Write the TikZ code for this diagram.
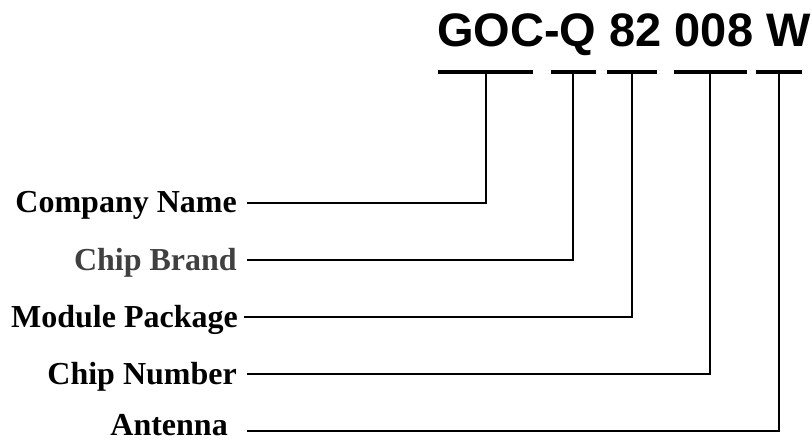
\documentclass[tikz,border=0pt]{standalone}
\usepackage{fontspec}
\setmainfont{Liberation Serif}
\newfontfamily\codefont{Liberation Sans}
\usetikzlibrary{positioning, calc}

\begin{document}
\begin{tikzpicture}[x=1pt,y=-1pt,
            field/.style={anchor=base east,inner sep=0pt,font=\fontsize{32}{38}\selectfont\bfseries},
            bar/.style={fill=black,inner sep=0pt,minimum height=4pt},
            lead/.style={line width=2pt}]
            \useasboundingbox (0,0) rectangle (812,441);

            % Part number
            \node[anchor=base west,inner sep=0pt,font=\fontsize{47}{56}\codefont\bfseries] (code) at (437,47) {GOC-Q 82 008 W};

            % Underline bars below each part
            \node[bar,minimum width=95pt] (company) at (485.5,72) {};
            \node[bar,minimum width=45pt] (brand) at (573,72) {};
            \node[bar,minimum width=50pt] (package) at (632,72) {};
            \node[bar,minimum width=73pt] (number) at (710,72) {};
            \node[bar,minimum width=46pt] (antenna) at (779,72) {};

            % Field names on the left
            \node[field] (lcompany) at (237,213) {Company Name};
            \node[field,text=black!75] (lbrand) at (237,270) {Chip Brand};
            \node[field] (lpackage) at (238,327) {Module Package};
            \node[field] (lnumber) at (237,384) {Chip Number};
            \node[field] (lantenna) at (228,435) {Antenna};

            % Leader lines
            \draw[lead] ([shift={(10pt,10pt)}]lcompany.base east) -| (company.south);
            \draw[lead] ([shift={(10pt,10pt)}]lbrand.base east) -| (brand.south);
            \draw[lead] ([shift={(6pt,10pt)}]lpackage.base east) -| (package.south);
            \draw[lead] ([shift={(10pt,10pt)}]lnumber.base east) -| (number.south);
            \draw[lead] ([shift={(19pt,4pt)}]lantenna.base east) -| (antenna.south);
        \end{tikzpicture}
\end{document}
